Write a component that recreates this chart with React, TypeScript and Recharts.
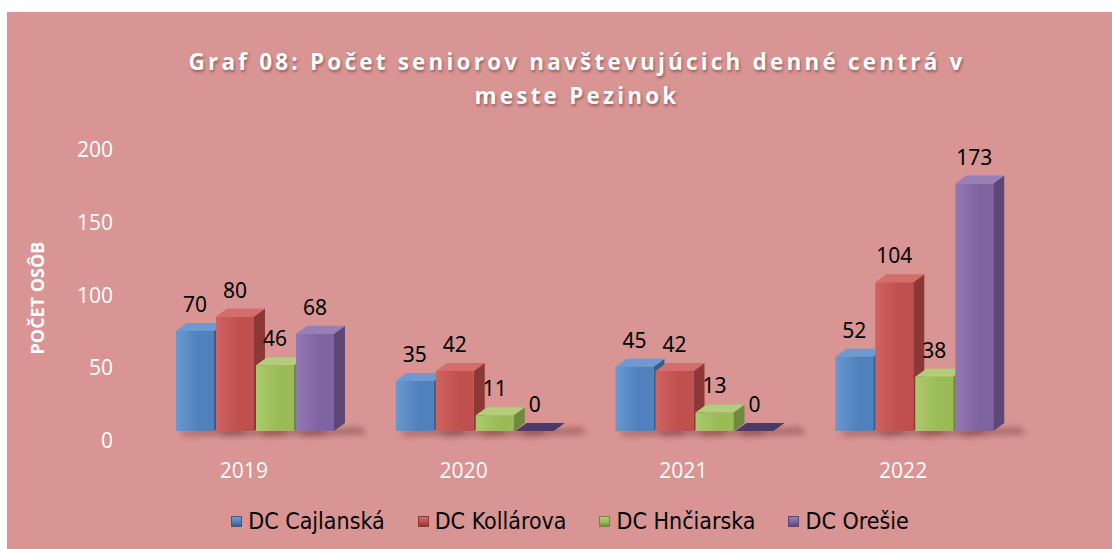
import React from 'react';
import { BarChart, Bar, XAxis, YAxis, LabelList } from 'recharts';

const years = ['2019', '2020', '2021', '2022'];
const cajlanska = [70, 35, 45, 52];
const kollarova = [80, 42, 42, 104];
const hnciarska = [46, 11, 13, 38];
const oresie = [68, 0, 0, 173];
const yTicks = [0, 50, 100, 150, 200];

const seriesNames = ['DC Cajlanská', 'DC Kollárova', 'DC Hnčiarska', 'DC Orešie'];
const seriesKeys = ['cajlanska', 'kollarova', 'hnciarska', 'oresie'];

const data = years.map((year, i) => ({
  year,
  cajlanska: cajlanska[i],
  kollarova: kollarova[i],
  hnciarska: hnciarska[i],
  oresie: oresie[i],
}));

// front / top / side / darker edge
const palette = [
  { front: '#4F81BD', light: '#6A98D0', top: '#6E9AD2', side: '#385D8A', floor: '#2F4F77' },
  { front: '#C0504D', light: '#D0625F', top: '#D26E6B', side: '#8C3836', floor: '#7A302E' },
  { front: '#9BBB59', light: '#ABCA6C', top: '#B2CE7B', side: '#71893F', floor: '#5F7535' },
  { front: '#8064A2', light: '#9279B4', top: '#977FB7', side: '#5C4776', floor: '#4A3A6A' },
];

const DX = 11;
const DY = 8;
const BG = '#D99594';

const makeShape = (si: number) => (props: any) => {
  const { x, y, width: w, height: h } = props;
  const c = palette[si];
  const base = y + h;
  const shadow = (
    <polygon
      points={`${x + 4},${base} ${x + w + DX + 16},${base - 4} ${x + w + DX + 22},${base + 3} ${x + 8},${base + 5}`}
      fill="#6b2e2e"
      opacity={0.45}
      filter="url(#blur)"
    />
  );
  if (h <= 0.5) {
    return (
      <g>
        {shadow}
        <polygon
          points={`${x},${base} ${x + DX},${base - DY} ${x + w + DX},${base - DY} ${x + w},${base}`}
          fill={c.floor}
        />
      </g>
    );
  }
  return (
    <g>
      {shadow}
      <polygon
        points={`${x + w},${y} ${x + w + DX},${y - DY} ${x + w + DX},${base - DY} ${x + w},${base}`}
        fill={c.side}
      />
      <polygon
        points={`${x},${y} ${x + DX},${y - DY} ${x + w + DX},${y - DY} ${x + w},${y}`}
        fill={c.top}
      />
      <rect x={x} y={y} width={w} height={h} fill={`url(#grad${si})`} />
    </g>
  );
};

const ValueLabel = (props: any) => {
  const { x, y, width, value } = props;
  return (
    <text
      x={x + width / 2}
      y={y - 27}
      textAnchor="middle"
      dominantBaseline="central"
      fontFamily="'Noto Sans', sans-serif"
      fontSize={21}
      fill="#000"
    >
      {value}
    </text>
  );
};

const YTick = (props: any) => {
  const { x, y, payload } = props;
  const dy = 9 - (payload.value / 200) * 5;
  return (
    <text
      x={x}
      y={y + dy}
      textAnchor="end"
      dominantBaseline="central"
      fontFamily="'Open Sans', sans-serif"
      fontSize={21}
      fill="#fff"
    >
      {payload.value}
    </text>
  );
};

const XTick = (props: any) => {
  const { x, y, payload } = props;
  return (
    <text
      x={x - 11}
      y={y + 37}
      textAnchor="middle"
      dominantBaseline="central"
      fontFamily="'Open Sans', sans-serif"
      fontSize={21}
      fill="#fff"
    >
      {payload.value}
    </text>
  );
};

const Legend3D = () => (
  <div
    style={{
      position: 'absolute',
      left: 0,
      width: 1126,
      top: 494,
      display: 'flex',
      justifyContent: 'center',
      gap: 33,
      fontFamily: "'DejaVu Sans Condensed', 'DejaVu Sans', sans-serif",
      fontSize: 23,
      lineHeight: '30px',
      color: '#000',
    }}
  >
    {seriesNames.map((name, i) => (
      <div key={name} style={{ display: 'flex', alignItems: 'center' }}>
        <span
          style={{
            display: 'inline-block',
            width: 11,
            height: 11,
            marginRight: 6,
            background: `linear-gradient(180deg, ${palette[i].top}, ${palette[i].front} 55%, ${palette[i].side})`,
            border: `1px solid ${palette[i].side}`,
            boxSizing: 'border-box',
          }}
        />
        <span>{name}</span>
      </div>
    ))}
  </div>
);

export default function App() {
  return (
    <div
      style={{
        position: 'absolute',
        left: 7,
        top: 12,
        width: 1105,
        height: 537,
        background: BG,
        overflow: 'hidden',
      }}
    >
      <div
        style={{
          position: 'absolute',
          left: 33,
          width: 1074,
          top: 33,
          textAlign: 'center',
          fontFamily: "'Open Sans', sans-serif",
          fontWeight: 700,
          fontSize: 22.5,
          lineHeight: '34px',
          letterSpacing: 3.2,
          color: '#fff',
          textShadow: '1px 2px 3px rgba(60,20,20,0.45)',
        }}
      >
        Graf 08: Počet seniorov navštevujúcich denné centrá v<br />meste Pezinok
      </div>
      <div
        style={{
          position: 'absolute',
          left: -70,
          top: 276,
          width: 200,
          height: 20,
          lineHeight: '20px',
          transform: 'rotate(-90deg)',
          textAlign: 'center',
          fontFamily: "'Open Sans', sans-serif",
          fontWeight: 700,
          fontSize: 18,
          color: '#fff',
        }}
      >
        POČET OSÔB
      </div>
      <BarChart
        width={1105}
        height={537}
        data={data}
        margin={{ top: 133, right: 88, left: 58, bottom: 78 }}
        barSize={38}
        barGap={2}
      >
        <defs>
          <filter id="blur" x="-50%" y="-200%" width="200%" height="500%">
            <feGaussianBlur stdDeviation="3" />
          </filter>
          {palette.map((c, i) => (
            <linearGradient key={i} id={`grad${i}`} x1="0" y1="0" x2="1" y2="0">
              <stop offset="0%" stopColor={c.light} />
              <stop offset="60%" stopColor={c.front} />
              <stop offset="100%" stopColor={c.front} />
            </linearGradient>
          ))}
        </defs>
        <XAxis
          dataKey="year"
          axisLine={false}
          tickLine={false}
          tickSize={0}
          height={40}
          tick={<XTick />}
        />
        <YAxis
          domain={[0, 200]}
          ticks={yTicks}
          axisLine={false}
          tickLine={false}
          tickSize={0}
          tickMargin={32}
          width={80}
          tick={<YTick />}
        />
        {seriesKeys.map((k, i) => (
          <Bar key={k} dataKey={k} name={seriesNames[i]} isAnimationActive={false} shape={makeShape(i)}>
            <LabelList dataKey={k} content={<ValueLabel />} />
          </Bar>
        ))}
      </BarChart>
      <Legend3D />
    </div>
  );
}
